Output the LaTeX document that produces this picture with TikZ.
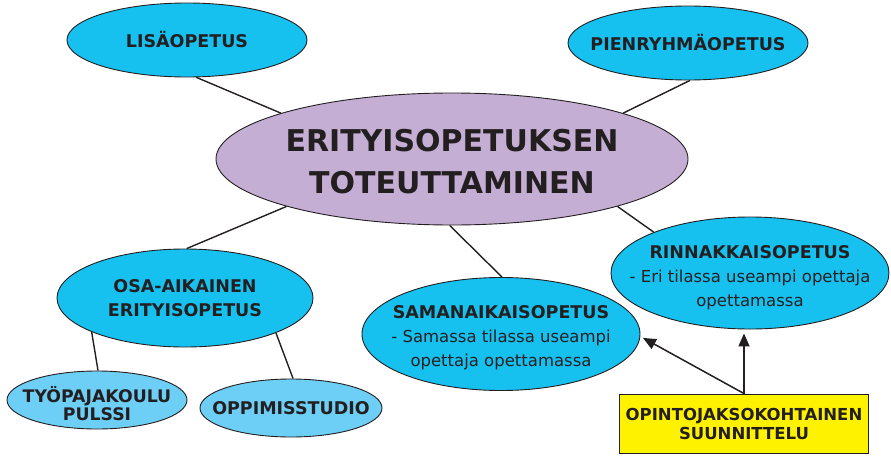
\documentclass[tikz,border=0pt]{standalone}
\usepackage{fontspec}
\setmainfont{DejaVu Sans}
\usetikzlibrary{shapes.geometric,arrows.meta}
\definecolor{cyanfill}{RGB}{22,193,240}
\definecolor{lightcyan}{RGB}{109,207,246}
\definecolor{lilac}{RGB}{197,174,212}
\definecolor{yel}{RGB}{255,242,0}
\definecolor{ink}{RGB}{35,31,32}
\tikzset{
  bubble/.style={ellipse, draw=ink, line width=0.9pt, inner sep=0pt},
  lbl/.style={align=center, text=ink, inner sep=0pt},
  boldlbl/.style={lbl, font=\fontsize{17.5}{23.5}\selectfont\bfseries},
  link/.style={draw=ink, line width=1.4pt},
  arr/.style={draw=ink, line width=1.5pt, -{Triangle[length=13pt,width=11pt]}}
}
\begin{document}
\begin{tikzpicture}[x=1pt,y=-1pt]
\useasboundingbox (0,0) rectangle (891,455);
% ellipses
\node[bubble, fill=cyanfill, minimum width=240pt, minimum height=74pt] (lisa) at (187,40) {};
\node[bubble, fill=cyanfill, minimum width=240pt, minimum height=74pt] (pien) at (688,43) {};
\node[bubble, fill=lilac, minimum width=472pt, minimum height=132pt] (main) at (452,159) {};
\node[bubble, fill=cyanfill, minimum width=256pt, minimum height=98pt] (osa) at (185,298) {};
\node[bubble, fill=lightcyan, minimum width=180pt, minimum height=58pt] (tyo) at (97,400) {};
\node[bubble, fill=lightcyan, minimum width=182pt, minimum height=58pt] (oppi) at (291,408) {};
\node[bubble, fill=cyanfill, minimum width=278pt, minimum height=113pt] (sama) at (501,334) {};
\node[bubble, fill=cyanfill, minimum width=278pt, minimum height=112pt] (rinna) at (750,273) {};
\node[draw=ink, line width=0.9pt, fill=yel, minimum width=249pt, minimum height=59pt, inner sep=0pt] (yel) at (744,423.5) {};
% texts
\node[boldlbl] (lisaT) at (lisa.center) {LISÄOPETUS};
\node[boldlbl] (pienT) at (pien.center) {PIENRYHMÄOPETUS};
\node[lbl, font=\fontsize{30}{42}\selectfont\bfseries] (mainT) at (452,162) {ERITYISOPETUKSEN\\TOTEUTTAMINEN};
\node[boldlbl] (osaT) at (185,298) {OSA-AIKAINEN\\ERITYISOPETUS};
\node[lbl, font=\fontsize{17.3}{18}\selectfont\bfseries] (tyoT) at (97,404) {TYÖPAJAKOULU\\PULSSI};
\node[boldlbl] (oppiT) at (oppi.center) {OPPIMISSTUDIO};
\node[lbl, font=\fontsize{16.5}{24}\selectfont] (samaT) at (501,338) {{\fontsize{17.5}{24}\selectfont\bfseries SAMANAIKAISOPETUS}\\- Samassa tilassa useampi\\opettaja opettamassa};
\node[lbl, font=\fontsize{16.5}{24}\selectfont] (rinnaT) at (750,278) {{\fontsize{17.5}{24}\selectfont\bfseries RINNAKKAISOPETUS}\\- Eri tilassa useampi opettaja\\opettamassa};
\node[lbl, font=\fontsize{16.5}{19.5}\selectfont\bfseries] (yelT) at (744,424) {OPINTOJAKSOKOHTAINEN\\SUUNNITTELU};
% connectors
\draw[link] (lisa.-76) -- (main.165);
\draw[link] (pien.-87) -- (main.15);
\draw[link] (main.196) -- (osa.88);
\draw[link] (main.-92) -- (sama.89);
\draw[link] (main.-16.5) -- (rinna.157.5);
\draw[link] (osa.200.8) -- (tyo.88);
\draw[link] (osa.-21) -- (oppi.86);
\draw[arr, shorten >=4pt] (yel.north) -- (yel.north |- rinna.south);
\draw[arr, shorten >=3pt] (yel.north) -- (sama.-1.6);
\end{tikzpicture}
\end{document}
